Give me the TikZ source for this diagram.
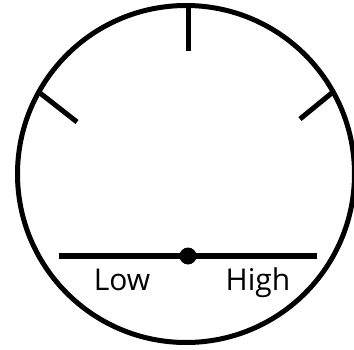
\documentclass[tikz,border=0pt]{standalone}
\usepackage{fontspec}
\setmainfont{Open Sans}
\usetikzlibrary{positioning}

\begin{document}
\begin{tikzpicture}[x=1pt, y=1pt,
  dial/.style={line width=5pt, black},
  pivot/.style={circle, fill=black, inner sep=0pt, minimum size=17pt},
  lbl/.style={font=\fontsize{30}{36}\selectfont, anchor=base, text=black}
]
\useasboundingbox (0,0) rectangle (354,349);
\draw[dial] (186,175) circle (168.5);
\draw[dial] (188,346) -- (188,298);
\draw[dial] (40,256) -- (77,227);
\draw[dial] (333,257) -- (300,230);
\coordinate (lowend) at (59,93);
\coordinate (highend) at (317,93);
\node[pivot] (knob) at (188,93) {};
\draw[dial, line width=5.5pt] (lowend) -- (knob.center) -- (highend);
\node[lbl] (low) at (122,59) {Low};
\node[lbl] (high) at (258,59) {High};
\end{tikzpicture}
\end{document}
